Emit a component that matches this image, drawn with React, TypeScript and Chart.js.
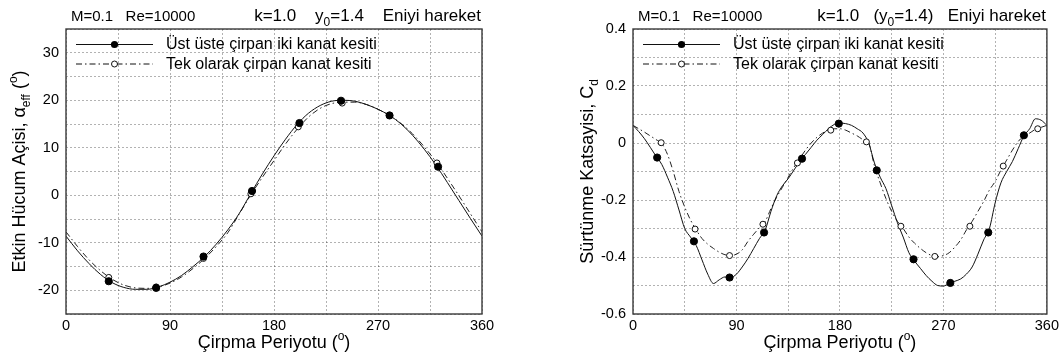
import React, { useEffect, useRef } from "react";
import { Chart, registerables } from "chart.js";
Chart.register(...registerables);

const FONT = '"Liberation Sans", Arial, Helvetica, sans-serif';

// ---------- Left chart: effective angle of attack ----------
const ALPHA_THETA = [0, 10, 20, 30, 40, 50, 60, 70, 80, 90, 100, 110, 120, 130, 140, 150, 160, 170, 180, 190, 200, 210, 220, 230, 240, 250, 260, 270, 280, 290, 300, 310, 320, 330, 340, 350, 360];
const ALPHA_TWO = [-8.6, -11.7, -14.4, -16.7, -18.4, -19.4, -19.8, -19.8, -19.3, -18.3, -16.9, -15.0, -12.9, -10.3, -7.3, -3.8, 0.4, 4.5, 8.3, 11.8, 14.9, 17.3, 18.9, 19.8, 20.0, 19.8, 19.1, 18.1, 16.8, 15.0, 12.6, 9.7, 6.4, 2.7, -1.1, -4.9, -8.6];
const ALPHA_SINGLE = [-7.7, -10.8, -13.6, -15.9, -17.7, -18.9, -19.5, -19.6, -19.3, -18.5, -17.2, -15.4, -13.3, -10.8, -7.9, -3.9, 0.1, 3.8, 7.3, 10.8, 13.9, 16.5, 18.3, 19.3, 19.6, 19.6, 19.1, 18.1, 16.8, 15.1, 12.9, 10.2, 7.1, 3.6, -0.1, -3.9, -7.7];
const ALPHA_TWO_MARK_THETA = [37, 78, 119, 161, 202, 238, 280, 322];
const ALPHA_TWO_MARK = [-18.1, -19.5, -12.9, 0.9, 15.2, 19.9, 16.8, 6.0];
const ALPHA_SINGLE_MARK_THETA = [37, 78, 119, 160, 201, 239, 280, 321];
const ALPHA_SINGLE_MARK = [-17.3, -19.3, -13.3, 0.3, 14.4, 19.4, 16.8, 6.8];

// ---------- Right chart: drag coefficient ----------
const CD_THETA = [0, 5, 10, 15, 20, 25, 30, 35, 40, 45, 50, 55, 60, 65, 70, 75, 80, 85, 90, 95, 100, 105, 110, 115, 120, 125, 130, 135, 140, 145, 150, 155, 160, 165, 170, 175, 180, 185, 190, 195, 200, 205, 210, 215, 220, 225, 230, 235, 240, 245, 250, 255, 260, 265, 270, 275, 280, 285, 290, 295, 300, 305, 310, 315, 320, 325, 330, 335, 340, 345, 350, 355, 360];
const CD_TWO = [0.062, 0.040, 0.015, -0.015, -0.046, -0.075, -0.120, -0.170, -0.235, -0.300, -0.330, -0.360, -0.410, -0.460, -0.493, -0.480, -0.470, -0.472, -0.460, -0.435, -0.405, -0.370, -0.335, -0.305, -0.240, -0.185, -0.150, -0.125, -0.095, -0.065, -0.040, -0.015, 0.010, 0.030, 0.050, 0.065, 0.070, 0.068, 0.062, 0.050, 0.035, 0.000, -0.070, -0.120, -0.160, -0.220, -0.280, -0.330, -0.385, -0.415, -0.440, -0.465, -0.485, -0.500, -0.502, -0.492, -0.485, -0.477, -0.460, -0.435, -0.390, -0.340, -0.300, -0.210, -0.140, -0.100, -0.065, -0.020, 0.025, 0.050, 0.085, 0.080, 0.062];
const CD_SINGLE = [0.062, 0.050, 0.038, 0.025, 0.012, -0.002, -0.040, -0.100, -0.170, -0.225, -0.270, -0.305, -0.335, -0.355, -0.370, -0.383, -0.392, -0.395, -0.390, -0.375, -0.345, -0.320, -0.297, -0.275, -0.230, -0.190, -0.155, -0.120, -0.085, -0.055, -0.025, 0.000, 0.020, 0.035, 0.045, 0.050, 0.050, 0.045, 0.035, 0.025, 0.012, 0.000, -0.080, -0.140, -0.195, -0.240, -0.275, -0.300, -0.330, -0.352, -0.370, -0.385, -0.395, -0.398, -0.395, -0.385, -0.365, -0.340, -0.305, -0.275, -0.240, -0.205, -0.165, -0.135, -0.095, -0.060, -0.025, 0.005, 0.025, 0.035, 0.048, 0.055, 0.062];
const CD_TWO_MARK_THETA = [21, 53, 84, 114, 147, 179, 212, 244, 276, 309, 340];
const CD_TWO_MARK = [-0.051, -0.345, -0.472, -0.314, -0.055, 0.068, -0.096, -0.408, -0.491, -0.314, 0.027];
const CD_SINGLE_MARK_THETA = [24.5, 54, 84, 113, 143, 172, 203, 233, 262.5, 293, 322, 352];
const CD_SINGLE_MARK = [0.001, -0.302, -0.395, -0.285, -0.07, 0.045, 0.004, -0.292, -0.398, -0.292, -0.081, 0.05];

const X_TICKS_LABELLED = [0, 90, 180, 270, 360];
const LEGEND_LABELS = ["Üst üste çirpan iki kanat kesiti", "Tek olarak çirpan kanat kesiti"];

type Seg = { t: string; m?: "sub" | "sup" };

function segFont(size: number, m?: string) {
  const s = m ? Math.round(size * 0.68) : size;
  return `${s}px ${FONT}`;
}
function measureRich(ctx: CanvasRenderingContext2D, segs: Seg[], size: number) {
  let w = 0;
  for (const s of segs) {
    ctx.font = segFont(size, s.m);
    w += ctx.measureText(s.t).width;
  }
  return w;
}
function drawRich(ctx: CanvasRenderingContext2D, segs: Seg[], x: number, y: number, size: number, align: "left" | "center" | "right") {
  const w = measureRich(ctx, segs, size);
  let cx = align === "left" ? x : align === "center" ? x - w / 2 : x - w;
  ctx.textAlign = "left";
  ctx.textBaseline = "alphabetic";
  ctx.fillStyle = "#000";
  for (const s of segs) {
    ctx.font = segFont(size, s.m);
    const dy = s.m === "sub" ? size * 0.28 : s.m === "sup" ? -size * 0.42 : 0;
    ctx.fillText(s.t, cx, y + dy);
    cx += ctx.measureText(s.t).width;
  }
}

interface Deco {
  left: Seg[];
  right: Seg[];
  yTitle: Seg[];
  yTitleX: number;
  xTitle: Seg[];
}

function makePlugin(d: Deco) {
  return {
    id: "deco",
    afterDraw(chart: any) {
      const ctx: CanvasRenderingContext2D = chart.ctx;
      const a = chart.chartArea;
      ctx.save();
      // frame
      ctx.strokeStyle = "#3a3a3a";
      ctx.lineWidth = 1.4;
      ctx.setLineDash([]);
      ctx.strokeRect(a.left, a.top, a.right - a.left, a.bottom - a.top);
      // titles
      drawRich(ctx, d.left, a.left + 5, 21, 15, "left");
      drawRich(ctx, d.right, a.right - 1, 21, 17, "right");
      drawRich(ctx, d.xTitle, (a.left + a.right) / 2, 348, 18, "center");
      ctx.save();
      ctx.translate(d.yTitleX, (a.top + a.bottom) / 2);
      ctx.rotate(-Math.PI / 2);
      drawRich(ctx, d.yTitle, 0, 0, 18, "center");
      ctx.restore();
      // legend
      for (let i = 0; i < 2; i++) {
        const y = a.top + 15.5 + i * 19.5;
        ctx.strokeStyle = "#111";
        ctx.lineWidth = 1;
        ctx.setLineDash(i === 0 ? [] : [6, 3, 1.5, 3]);
        ctx.beginPath();
        ctx.moveTo(a.left + 10, y);
        ctx.lineTo(a.left + 87, y);
        ctx.stroke();
        ctx.setLineDash([]);
        ctx.beginPath();
        ctx.arc(a.left + 48.5, y, i === 0 ? 3.6 : 3, 0, Math.PI * 2);
        if (i === 0) {
          ctx.fillStyle = "#000";
          ctx.fill();
        } else {
          ctx.fillStyle = "#fff";
          ctx.fill();
          ctx.stroke();
        }
        ctx.font = `16px ${FONT}`;
        ctx.fillStyle = "#000";
        ctx.textAlign = "left";
        ctx.textBaseline = "alphabetic";
        ctx.fillText(LEGEND_LABELS[i], a.left + 100, y + 4.5);
      }
      ctx.restore();
    },
  };
}

function pts(xs: number[], ys: number[]) {
  return xs.map((x, i) => ({ x, y: ys[i] }));
}

interface Cfg {
  lineTwo: { x: number; y: number }[];
  lineSingle: { x: number; y: number }[];
  markTwo: { x: number; y: number }[];
  markSingle: { x: number; y: number }[];
  yMin: number;
  yMax: number;
  yStep: number;
  yLabel: (v: number) => string;
  padLeft: number;
  padRight: number;
  deco: Deco;
}

function buildChart(canvas: HTMLCanvasElement, c: Cfg) {
  const gridStyle = { color: "rgba(0,0,0,0.3)", lineWidth: 1, drawTicks: false };
  return new Chart(canvas, {
    type: "scatter",
    data: {
      datasets: [
        {
          data: c.markTwo,
          showLine: false,
          pointRadius: 3.6,
          pointBackgroundColor: "#000",
          pointBorderColor: "#000",
          pointBorderWidth: 1,
          order: 0,
        },
        {
          data: c.markSingle,
          showLine: false,
          pointRadius: 3,
          pointBackgroundColor: "#fff",
          pointBorderColor: "#111",
          pointBorderWidth: 1,
          order: 0,
        },
        {
          data: c.lineTwo,
          showLine: true,
          pointRadius: 0,
          borderColor: "#111",
          borderWidth: 1,
          cubicInterpolationMode: "monotone",
          order: 1,
        },
        {
          data: c.lineSingle,
          showLine: true,
          pointRadius: 0,
          borderColor: "#222",
          borderWidth: 1,
          borderDash: [6, 3, 1.5, 3],
          cubicInterpolationMode: "monotone",
          order: 1,
        },
      ] as any,
    },
    options: {
      responsive: false,
      animation: false,
      events: [],
      layout: { padding: { left: c.padLeft, right: c.padRight, top: 29, bottom: 16 } },
      plugins: { legend: { display: false }, tooltip: { enabled: false }, title: { display: false } },
      scales: {
        x: {
          type: "linear",
          min: 0,
          max: 360,
          grid: gridStyle,
          border: { display: false, dash: [2, 2] },
          afterFit: (s: any) => {
            s.height = 30;
          },
          afterBuildTicks: (s: any) => {
            s.ticks = [0, 45, 90, 135, 180, 225, 270, 315, 360].map((v) => ({ value: v }));
          },
          ticks: {
            autoSkip: false,
            maxRotation: 0,
            padding: 3,
            color: "#000",
            font: { family: FONT, size: 14.5 },
            callback: (v: any) => (X_TICKS_LABELLED.includes(Number(v)) ? String(v) : ""),
          },
        },
        y: {
          type: "linear",
          min: c.yMin,
          max: c.yMax,
          grid: gridStyle,
          border: { display: false, dash: [2, 2] },
          afterFit: (s: any) => {
            s.width = 50;
          },
          ticks: {
            stepSize: c.yStep,
            autoSkip: false,
            padding: 7,
            color: "#000",
            font: { family: FONT, size: 14.5 },
            callback: (v: any) => c.yLabel(Number(v)),
          },
        },
      },
    } as any,
    plugins: [makePlugin(c.deco)],
  });
}

export default function App() {
  const leftRef = useRef<HTMLCanvasElement>(null);
  const rightRef = useRef<HTMLCanvasElement>(null);

  useEffect(() => {
    const left = buildChart(leftRef.current!, {
      lineTwo: pts(ALPHA_THETA, ALPHA_TWO),
      lineSingle: pts(ALPHA_THETA, ALPHA_SINGLE),
      markTwo: pts(ALPHA_TWO_MARK_THETA, ALPHA_TWO_MARK),
      markSingle: pts(ALPHA_SINGLE_MARK_THETA, ALPHA_SINGLE_MARK),
      yMin: -25,
      yMax: 35,
      yStep: 5,
      yLabel: (v) => {
        const r = Math.round(v);
        return r % 10 === 0 && r >= -20 && r <= 30 ? String(r) : "";
      },
      padLeft: 16,
      padRight: 49,
      deco: {
        left: [{ t: "M=0.1   Re=10000" }],
        right: [{ t: "k=1.0    y" }, { t: "0", m: "sub" }, { t: "=1.4    Eniyi hareket" }],
        yTitle: [{ t: "Etkin Hücum Açisi, α" }, { t: "eff", m: "sub" }, { t: " (" }, { t: "o", m: "sup" }, { t: ")" }],
        yTitleX: 25,
        xTitle: [{ t: "Çirpma Periyotu (" }, { t: "o", m: "sup" }, { t: ")" }],
      },
    });
    const right = buildChart(rightRef.current!, {
      lineTwo: pts(CD_THETA, CD_TWO),
      lineSingle: pts(CD_THETA, CD_SINGLE),
      markTwo: pts(CD_TWO_MARK_THETA, CD_TWO_MARK),
      markSingle: pts(CD_SINGLE_MARK_THETA, CD_SINGLE_MARK),
      yMin: -0.6,
      yMax: 0.4,
      yStep: 0.1,
      yLabel: (v) => {
        const k = Math.round(v * 10);
        if (k % 2 !== 0) return "";
        if (k === 0) return "0";
        return (k / 10).toFixed(1);
      },
      padLeft: 52,
      padRight: 13,
      deco: {
        left: [{ t: "M=0.1   Re=10000" }],
        right: [{ t: "k=1.0   (y" }, { t: "0", m: "sub" }, { t: "=1.4)   Eniyi hareket" }],
        yTitle: [{ t: "Sürtünme Katsayisi, C" }, { t: "d", m: "sub" }],
        yTitleX: 62,
        xTitle: [{ t: "Çirpma Periyotu (" }, { t: "o", m: "sup" }, { t: ")" }],
      },
    });
    return () => {
      left.destroy();
      right.destroy();
    };
  }, []);

  return (
    <div style={{ position: "absolute", left: 0, top: 0, width: 1062, height: 360, background: "#fff" }}>
      <canvas ref={leftRef} width={531} height={360} style={{ position: "absolute", left: 0, top: 0, display: "block" }} />
      <canvas ref={rightRef} width={531} height={360} style={{ position: "absolute", left: 531, top: 0, display: "block" }} />
    </div>
  );
}
